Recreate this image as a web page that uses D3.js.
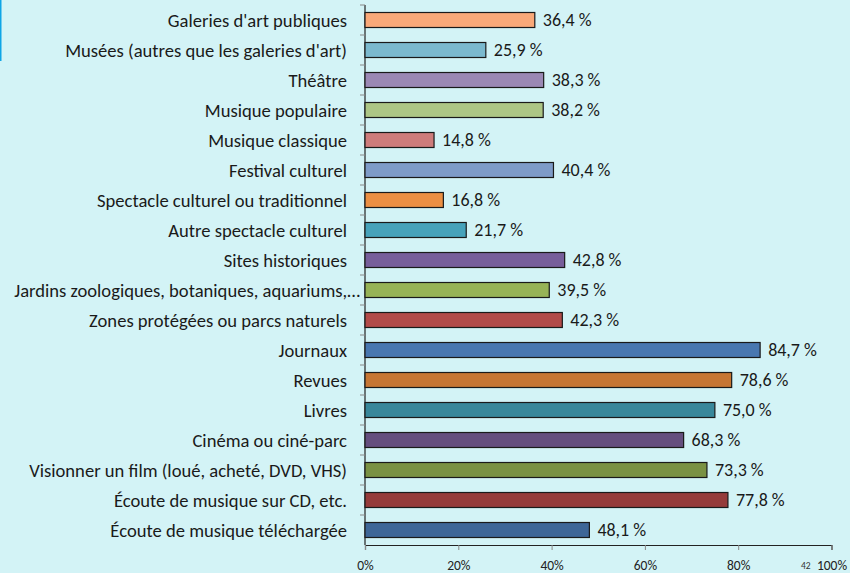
<!DOCTYPE html>
<html>
<head>
<meta charset="utf-8">
<script src="https://cdn.jsdelivr.net/npm/d3@7"></script>
<style>
  html, body { margin: 0; padding: 0; background: #d3f3f6; }
  svg { display: block; font-family: Carlito, Lato, "Open Sans", sans-serif; }
</style>
</head>
<body>
<div id="chart"></div>
<script>
// donnees
const categories = [
  "Galeries d'art publiques",
  "Musées (autres que les galeries d'art)",
  "Théâtre",
  "Musique populaire",
  "Musique classique",
  "Festival culturel",
  "Spectacle culturel ou traditionnel",
  "Autre spectacle culturel",
  "Sites historiques",
  "Jardins zoologiques, botaniques, aquariums,…",
  "Zones protégées ou parcs naturels",
  "Journaux",
  "Revues",
  "Livres",
  "Cinéma ou ciné-parc",
  "Visionner un film (loué, acheté, DVD, VHS)",
  "Écoute de musique sur CD, etc.",
  "Écoute de musique téléchargée"
]
const valeurs = [36.4, 25.9, 38.3, 38.2, 14.8, 40.4, 16.8, 21.7, 42.8, 39.5, 42.3, 84.7, 78.6, 75.0, 68.3, 73.3, 77.8, 48.1]
const couleurs = ["#f9a979", "#7bb9ce", "#9b88b4", "#adc685", "#ce7c7b", "#7e9bc8", "#eb8f43", "#47a2ba",
  "#775e9a", "#97b356", "#b24b49", "#4977b0", "#c67634", "#39879a", "#654e7e", "#7a9143", "#953b3a", "#3e6697"]
const ticksX = [0, 20, 40, 60, 80, 100]

const W = 850, H = 573
const m = { top: 5, left: 365, right: 18.5, bottom: 28 }

const svg = d3.select("#chart").append("svg")
  .attr("width", W)
  .attr("height", H)

svg.append("rect").attr("width", W).attr("height", H).attr("fill", "#d3f3f6")
// petit trait bleu a gauche
svg.append("rect").attr("x", 0).attr("y", 0).attr("width", 1.5).attr("height", 61).attr("fill", "#0ea5e6")

const x = d3.scaleLinear().domain([0, 100]).range([m.left, W - m.right])
const y = d3.scaleBand().domain(categories).range([m.top, H - m.bottom]).paddingInner(0.5).paddingOuter(0.25)

const fmt = v => d3.format(".1f")(v).replace(".", ",") + " %"

// axe Y: ligne + petits ticks entre categories
const yBottom = H - m.bottom
svg.append("line")
  .attr("x1", m.left).attr("x2", m.left)
  .attr("y1", m.top).attr("y2", yBottom)
  .attr("stroke", "#222").attr("stroke-width", 1.2)
const step = y.step()
svg.selectAll(".ytick")
  .data(d3.range(categories.length))
  .enter().append("line")
  .attr("x1", m.left - 5).attr("x2", m.left)
  .attr("y1", i => m.top + i * step).attr("y2", i => m.top + i * step)
  .attr("stroke", "#888")

// axe X
const axeX = svg.append("g")
  .attr("transform", "translate(0," + yBottom + ")")
  .call(d3.axisBottom(x).tickValues(ticksX).tickFormat(d => d + "%").tickSize(5).tickPadding(10))
axeX.select(".domain").attr("stroke", "#222").attr("stroke-width", 1.2)
axeX.selectAll(".tick line").attr("stroke", "#888")
axeX.selectAll("text").attr("font-size", 13.5).attr("fill", "#222").attr("font-family", "Carlito, Lato, sans-serif")

// barres
svg.selectAll(".bar")
  .data(valeurs)
  .enter().append("rect")
  .attr("x", x(0))
  .attr("y", (d, i) => y(categories[i]))
  .attr("width", d => x(d) - x(0))
  .attr("height", y.bandwidth())
  .attr("fill", (d, i) => couleurs[i])
  .attr("stroke", "#1a1a1a")
  .attr("stroke-width", 1.2)

// etiquettes de valeur
svg.selectAll(".val")
  .data(valeurs)
  .enter().append("text")
  .attr("x", d => x(d) + 8)
  .attr("y", (d, i) => y(categories[i]) + y.bandwidth() / 2)
  .attr("dy", "0.36em")
  .attr("font-size", 18)
  .attr("fill", "#1a1a1a")
  .text(fmt)

// etiquettes des categories (la tronquee deborde un peu sur l'axe)
svg.selectAll(".cat")
  .data(categories)
  .enter().append("text")
  .attr("x", d => m.left - 18 + (d.endsWith("…") ? 13 : 0))
  .attr("y", d => y(d) + y.bandwidth() / 2)
  .attr("dy", "0.37em")
  .attr("text-anchor", "end")
  .attr("font-size", 18.6)
  .attr("fill", "#1a1a1a")
  .text(d => d)

// numero de page
svg.append("text")
  .attr("x", 801).attr("y", 569)
  .attr("font-size", 9.5)
  .attr("fill", "#333")
  .text("42")
</script>
</body>
</html>
